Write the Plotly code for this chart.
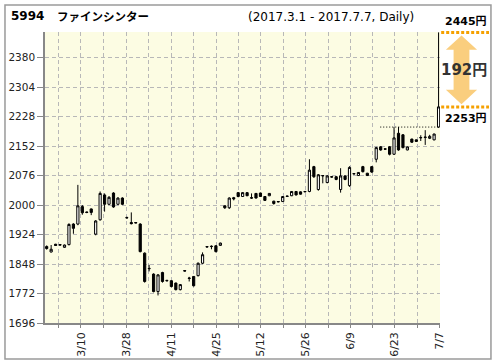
import plotly.graph_objects as go

# ---------------- data ----------------
dates = ["3/1","3/2","3/3","3/6","3/7","3/8","3/9","3/10","3/13","3/14","3/15","3/16","3/17",
         "3/21","3/22","3/23","3/24","3/27","3/28","3/29","3/30","3/31",
         "4/3","4/4","4/5","4/6","4/7","4/10","4/11","4/12","4/13","4/14","4/17","4/18","4/19",
         "4/20","4/21","4/24","4/25","4/26","4/27","4/28",
         "5/1","5/2","5/8","5/9","5/10","5/11","5/12","5/15","5/16","5/17","5/18","5/19","5/22",
         "5/23","5/24","5/25","5/26","5/29","5/30","5/31",
         "6/1","6/2","6/5","6/6","6/7","6/8","6/9","6/12","6/13","6/14","6/15","6/16","6/19",
         "6/20","6/21","6/22","6/23","6/26","6/27","6/28","6/29","6/30",
         "7/3","7/4","7/5","7/6","7/7"]

opens = [1893,1879,1899,1898,1891,1898,1951,1951,1996,1982,1990,1925,1962,2026,2002,2031,2002,2018,1968,1955,
         1955,1951,1876,1837,1822,1777,1826,1806,1805,1799,1782,1831,1812,1816,1818,1850,1893,1894,1895,1896,
         1998,1993,2019,2032,2022,2032,2019,2030,2031,2022,2024,2010,2008,2009,2022,2024,2035,2034,2034,2035,
         2099,2040,2075,2058,2072,2073,2040,2075,2050,2080,2076,2099,2082,2099,2118,2150,2145,2150,2131,2185,
         2181,2142,2170,2168,2173,2174,2172,2168,2201]
highs = [1896,1897,1900,1899,1898,1953,1953,2052,2000,1983,1991,1961,2035,2030,2023,2033,2020,2020,1970,1981,
         1956,1953,1878,1846,1824,1822,1828,1807,1806,1800,1796,1832,1815,1817,1852,1878,1894,1896,1896,1903,
         1999,2020,2021,2033,2033,2033,2030,2031,2032,2023,2031,2011,2010,2023,2024,2036,2036,2035,2036,2118,
         2101,2080,2077,2077,2074,2075,2095,2077,2100,2082,2085,2101,2083,2100,2150,2152,2146,2152,2201,2201,
         2183,2151,2171,2169,2180,2193,2181,2184,2445]
lows = [1885,1878,1895,1896,1890,1896,1926,1948,1975,1979,1974,1922,1960,1983,2000,1993,2000,2000,1965,1950,
        1953,1878,1800,1829,1775,1767,1800,1803,1788,1780,1780,1829,1803,1790,1816,1848,1891,1886,1878,1895,
        1990,1990,2012,2020,2021,2023,2016,2017,2021,2011,2023,2001,2007,2008,2021,2023,2025,2027,2033,2033,
        2070,2037,2056,2056,2070,2064,2032,2064,2047,2079,2075,2084,2075,2083,2110,2140,2142,2128,2129,2140,
        2146,2141,2160,2163,2165,2155,2170,2167,2199]
closes = [1888,1886,1896,1897,1897,1950,1940,1998,1980,1981,1981,1959,2030,2002,2020,1995,2018,2002,1967,1952,
          1954,1880,1803,1836,1777,1820,1803,1805,1790,1782,1795,1830,1811,1792,1850,1872,1892,1893,1880,1902,
          1993,2018,2016,2022,2032,2024,2018,2018,2022,2012,2030,2004,2009,2022,2023,2035,2026,2028,2035,2090,
          2073,2078,2076,2075,2073,2066,2075,2066,2097,2081,2084,2086,2076,2085,2148,2142,2144,2131,2173,2142,
          2148,2150,2162,2164,2174,2175,2177,2183,2253]

y_ticks = [1696, 1772, 1848, 1924, 2000, 2076, 2152, 2228, 2304, 2380]
x_tick_pos = [2.55, 7.7, 12.85, 17.85, 22.95, 27.95, 33.0, 38.05, 43.15, 48.1, 53.2, 58.2, 63.3, 68.3,
              73.25, 78.2, 83.3, 88.3]
x_tick_text = ["", "3/10", "", "3/28", "", "4/11", "", "4/25", "", "5/12", "", "5/26", "", "6/9",
               "", "6/23", "", "7/7"]

code = "5994"
name = "ファインシンター"
period = "(2017.3.1 - 2017.7.7, Daily)"

# ---------------- figure ----------------
idx = list(range(len(dates)))
Y0, Y1 = 1696, 2446
X0, X1 = -0.38, 88.32

def ypaper(v):
    return (v - Y0) / (Y1 - Y0)

fig = go.Figure()
fig.add_trace(go.Candlestick(
    x=idx, open=opens, high=highs, low=lows, close=closes,
    increasing=dict(line=dict(color="black", width=1), fillcolor="white"),
    decreasing=dict(line=dict(color="black", width=1), fillcolor="black"),
    whiskerwidth=0, showlegend=False, hoverinfo="skip"))

prev_high = max(highs[:-1])
fig.add_trace(go.Scatter(x=[74.9, idx[-1]], y=[prev_high, prev_high], mode="lines",
                         line=dict(color="black", width=1, dash="1px,2px"),
                         showlegend=False, hoverinfo="skip"))

last_high = highs[-1]
last_close = closes[-1]
diff = last_high - last_close

orange = "#f5a000"
xl, xr = 1.003, 1.124
cx, hw, sw = 1.0544, 0.0395, 0.0200
shapes = [
    dict(type="rect", xref="paper", yref="paper", x0=-0.1013, x1=1.129, y0=-0.1237, y1=1.0928,
         line=dict(color="#9a9a9a", width=1.5), fillcolor="rgba(0,0,0,0)", layer="above"),
    dict(type="line", xref="paper", yref="paper", x0=xl, x1=xr,
         y0=ypaper(last_high), y1=ypaper(last_high),
         line=dict(color=orange, width=3, dash="3px,2px")),
    dict(type="line", xref="paper", yref="paper", x0=xl, x1=xr,
         y0=ypaper(last_close), y1=ypaper(last_close),
         line=dict(color=orange, width=3, dash="3px,2px")),
]
t_tip = ypaper(last_high - 8); t_base = ypaper(last_high - 45)
b_tip = ypaper(last_close + 7); b_base = ypaper(last_close + 44)
path = (f"M {cx},{t_tip} L {cx+hw},{t_base} L {cx+sw},{t_base} L {cx+sw},{b_base} "
        f"L {cx+hw},{b_base} L {cx},{b_tip} L {cx-hw},{b_base} L {cx-sw},{b_base} "
        f"L {cx-sw},{t_base} L {cx-hw},{t_base} Z")
shapes.append(dict(type="path", xref="paper", yref="paper", path=path,
                   fillcolor="rgba(245,165,20,0.55)", line=dict(width=0)))

F = "DejaVu Sans, Noto Sans CJK JP"
annotations = [
    dict(text=f"<b>{code}</b>", xref="paper", yref="paper", x=-0.0911, y=1.056,
         xanchor="left", yanchor="middle", showarrow=False, font=dict(size=12, color="black", family=F)),
    dict(text=f"<b>{name}</b>", xref="paper", yref="paper", x=0.025, y=1.056,
         xanchor="left", yanchor="middle", showarrow=False,
         font=dict(size=11.5, color="black", family="Noto Sans CJK JP")),
    dict(text=period, xref="paper", yref="paper", x=0.9395, y=1.052,
         xanchor="right", yanchor="middle", showarrow=False, font=dict(size=12, color="black", family=F)),
    dict(text=f"<b>{last_high}円</b>", xref="paper", yref="paper", x=1.067, y=ypaper(last_high),
         yshift=2, xanchor="center", yanchor="bottom", showarrow=False,
         font=dict(size=11, color="black", family=F)),
    dict(text=f"<b>{last_close}円</b>", xref="paper", yref="paper", x=1.067, y=ypaper(last_close),
         yshift=-3, xanchor="center", yanchor="top", showarrow=False,
         font=dict(size=11, color="black", family=F)),
    dict(text=f"<b>{diff}円</b>", xref="paper", yref="paper", x=1.062,
         y=ypaper((last_high + last_close) / 2), xanchor="center", yanchor="middle", showarrow=False,
         font=dict(size=15, color="#333333", family=F)),
]

fig.update_layout(
    width=496, height=364, autosize=False,
    margin=dict(l=45, r=56, t=32, b=41, pad=0, autoexpand=False),
    paper_bgcolor="white", plot_bgcolor="#fcfce3",
    font=dict(family=F, color="#222"),
    shapes=shapes, annotations=annotations,
    showlegend=False,
    xaxis=dict(range=[X0, X1], tickmode="array", tickvals=x_tick_pos, ticktext=x_tick_text,
               tickangle=-90, ticks="outside", ticklen=3, tickcolor="#888", tickwidth=1,
               showline=True, linecolor="#888", linewidth=1.5, automargin=False,
               showgrid=True, gridcolor="#b8b8b8", gridwidth=1, griddash="4px,3px",
               zeroline=False, rangeslider=dict(visible=False), fixedrange=True,
               tickfont=dict(size=11, color="#222", family=F)),
    yaxis=dict(range=[Y0, Y1], tickmode="array", tickvals=y_ticks, ticktext=[str(v) for v in y_ticks],
               ticks="outside", ticklen=6, tickcolor="#888", tickwidth=1,
               showline=True, linecolor="#888", linewidth=1.5, automargin=False,
               showgrid=True, gridcolor="#b8b8b8", gridwidth=1, griddash="4px,3px",
               zeroline=False, fixedrange=True,
               tickfont=dict(size=10.5, color="#222", family=F)),
)

fig.write_html("out.html", config={"displayModeBar": False},
               post_script="document.body.style.margin='0px';document.body.style.overflow='hidden';")
